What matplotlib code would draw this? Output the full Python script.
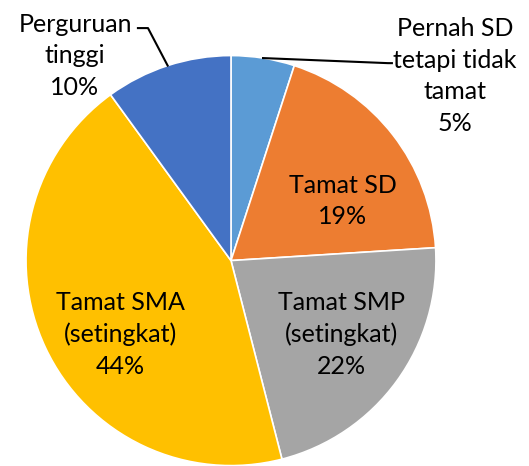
import numpy as np
import matplotlib
matplotlib.use('Agg')
import matplotlib.pyplot as plt

plt.rcParams['font.family'] = ['Lato', 'DejaVu Sans']

# data
kategori = ['Pernah SD\ntetapi tidak\ntamat', 'Tamat SD', 'Tamat SMP\n(setingkat)',
            'Tamat SMA\n(setingkat)', 'Perguruan\ntinggi']
persen = [5, 19, 22, 44, 10]
warna = ['#5B9BD5', '#ED7D31', '#A5A5A5', '#FFC000', '#4472C4']

# posisi label (satuan data, jari-jari = 1)
pos_label = [(1.093, 0.90), (0.546, 0.29), (0.537, -0.36), (-0.541, -0.36), (-0.761, 1.0)]

fig = plt.figure(figsize=(5.29, 4.66), dpi=100)
ax = fig.add_axes([0, 0, 1, 1])

wedges, _ = ax.pie(persen, colors=warna, startangle=90, counterclock=False,
                   wedgeprops=dict(edgecolor='white', linewidth=1.2))

for w, lab, p, (lx, ly) in zip(wedges, kategori, persen, pos_label):
    ax.text(lx, ly, lab + '\n' + str(p) + '%', ha='center', va='center',
            fontsize=18, linespacing=1.45, color='black')

# garis penunjuk untuk label di luar
def tengah(w):
    a = np.deg2rad((w.theta1 + w.theta2) / 2)
    return np.cos(a), np.sin(a)

x0, y0 = tengah(wedges[4])
ax.plot([x0, -0.405, -0.454], [y0, 1.134, 1.134], color='black', lw=1.5)
x1, y1 = tengah(wedges[0])
ax.plot([x1, 0.766, 0.785], [y1, 0.963, 0.963], color='black', lw=1.5)

ax.set_xlim(-1.127, 1.454)
ax.set_ylim(-1.002, 1.271)
ax.set_aspect('auto')
ax.axis('off')

fig.savefig('out.png', dpi=100, facecolor='white')
